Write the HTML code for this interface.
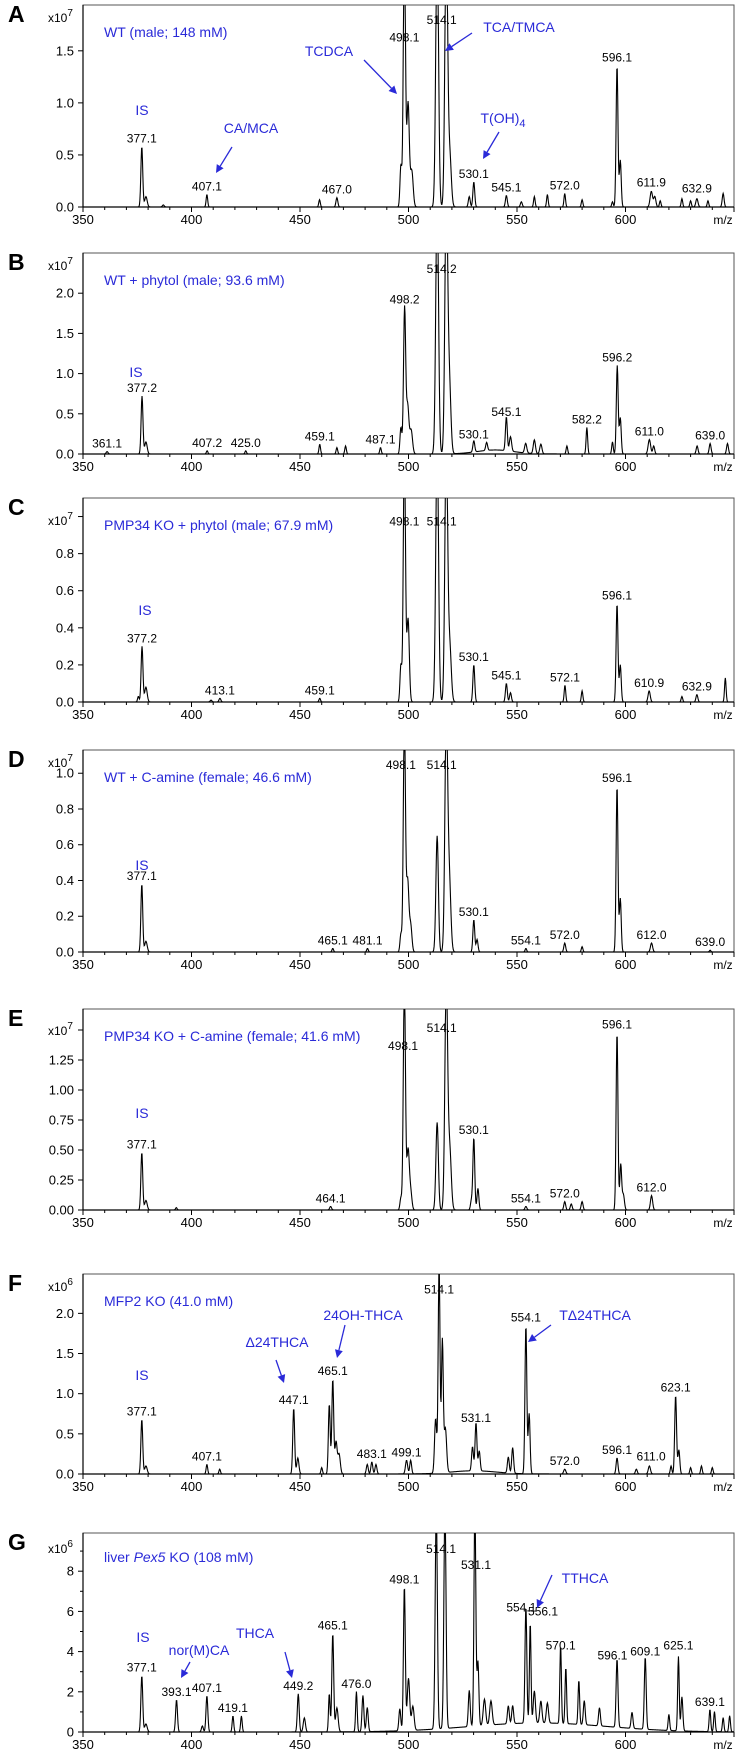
<!DOCTYPE html>
<html><head><meta charset="utf-8">
<style>
html,body{margin:0;padding:0;background:#fff;}
svg{display:block;font-family:"Liberation Sans",Arial,sans-serif;}
</style></head>
<body>
<svg id="fig" width="739" height="1754" viewBox="0 0 739 1754" xmlns="http://www.w3.org/2000/svg"></svg>
<script>
// ---- data: [m/z, intensity, width] ----
const peaksA=[[377.1,0.58,0.6],[379,0.1,0.8],[387,0.02,0.6],[407.1,0.12,0.5],[459,0.07,0.5],[467.0,0.09,0.6],[496.5,0.4,0.6],[498.1,2.6,0.7],[499.8,1.0,0.8],[501.5,0.35,0.9],[513.2,2.6,0.9],[517.4,2.6,0.9],[519,0.5,1.0],[528,0.1,0.6],[530.1,0.24,0.6],[545.1,0.11,0.6],[552,0.05,0.6],[558,0.1,0.5],[564,0.12,0.5],[572.0,0.13,0.5],[580,0.07,0.5],[594,0.05,0.5],[596.1,1.36,0.6],[597.6,0.45,0.6],[611.9,0.15,0.8],[613.5,0.1,0.7],[616,0.06,0.5],[626,0.08,0.5],[630,0.06,0.5],[632.9,0.08,0.7],[638,0.06,0.5],[645,0.13,0.6]];
const labelsA=[["377.1",377.1,0.58],["407.1",407.1,0.12],["467.0",467.0,0.09],["498.1",498.1,1.55],["514.1",515.3,1.72],["530.1",530.1,0.24],["545.1",545.1,0.11],["572.0",572.0,0.13],["596.1",596.1,1.36],["611.9",611.9,0.16],["632.9",632.9,0.1]];
const ticksA=[0,0.5,1.0,1.5];

const peaksB=[[361.1,0.03,0.6],[377.2,0.72,0.6],[379,0.15,0.8],[407.2,0.04,0.5],[425.0,0.04,0.5],[459.1,0.12,0.5],[467,0.08,0.5],[471,0.1,0.5],[487.1,0.08,0.5],[496.5,0.33,0.6],[498.2,1.82,0.7],[499.6,0.6,0.8],[501.2,0.3,0.9],[513.2,3.2,0.9],[517.4,3.2,0.9],[518.8,0.9,1.0],[530.1,0.14,0.6],[536,0.1,0.6],[545.1,0.42,0.6],[547,0.18,0.7],[554,0.12,0.7],[558,0.17,0.7],[561,0.12,0.7],[573,0.1,0.5],[582.2,0.33,0.5],[594,0.15,0.5],[596.2,1.1,0.6],[597.6,0.45,0.6],[611.0,0.18,0.8],[613,0.1,0.6],[633,0.1,0.6],[639.0,0.13,0.6],[647,0.13,0.6],[540,0.05,12]];
const labelsB=[["361.1",361.1,0.03],["377.2",377.2,0.72],["407.2",407.2,0.04],["425.0",425.0,0.04],["459.1",459.1,0.12],["487.1",487.1,0.08],["498.2",498.2,1.82],["514.2",515.3,2.2],["530.1",530.1,0.14],["545.1",545.1,0.42],["582.2",582.2,0.33],["596.2",596.2,1.1],["611.0",611.0,0.18],["639.0",639.0,0.13]];
const ticksB=[0,0.5,1.0,1.5,2.0];

const peaksC=[[377.2,0.3,0.6],[379,0.08,0.8],[375.5,0.03,0.5],[409,0.01,0.6],[413.1,0.02,0.6],[459.1,0.02,0.5],[496.5,0.2,0.6],[498.1,1.4,0.7],[499.8,0.45,0.8],[513.2,1.4,0.9],[517.4,1.4,0.9],[519,0.3,1.0],[530.1,0.2,0.6],[545.1,0.1,0.6],[547,0.05,0.6],[572.1,0.09,0.5],[580,0.06,0.5],[596.1,0.53,0.6],[597.6,0.2,0.6],[610.9,0.06,0.7],[626,0.03,0.5],[632.9,0.04,0.6],[646,0.13,0.5]];
const labelsC=[["377.2",377.2,0.3],["413.1",413.1,0.02],["459.1",459.1,0.02],["498.1",498.1,0.93],["514.1",515.3,0.93],["530.1",530.1,0.2],["545.1",545.1,0.1],["572.1",572.1,0.09],["596.1",596.1,0.53],["610.9",610.9,0.06],["632.9",632.9,0.04]];
const ticksC=[0,0.2,0.4,0.6,0.8];

const peaksD=[[377.1,0.38,0.6],[379,0.06,0.8],[465.1,0.02,0.5],[481.1,0.02,0.5],[496.5,0.1,0.6],[498.1,1.3,0.7],[499.6,0.4,0.8],[501,0.15,0.8],[513.2,0.65,0.8],[517.4,1.3,0.9],[518.8,0.4,1.0],[530.1,0.18,0.6],[531.6,0.07,0.6],[554.1,0.02,0.5],[572.0,0.05,0.6],[580,0.03,0.5],[596.1,0.93,0.6],[597.6,0.3,0.6],[612.0,0.05,0.7],[639.0,0.01,0.5]];
const labelsD=[["377.1",377.1,0.38],["465.1",465.1,0.02],["481.1",481.1,0.02],["498.1",496.5,1.0],["514.1",515.3,1.0],["530.1",530.1,0.18],["554.1",554.1,0.02],["572.0",572.0,0.05],["596.1",596.1,0.93],["612.0",612.0,0.05],["639.0",639.0,0.01]];
const ticksD=[0,0.2,0.4,0.6,0.8,1.0];

const peaksE=[[377.1,0.48,0.6],[379,0.08,0.8],[393,0.02,0.5],[464.1,0.03,0.6],[496.5,0.1,0.6],[498.1,1.9,0.7],[499.8,0.5,0.8],[501,0.15,0.8],[513.2,0.73,0.8],[517.4,1.9,0.9],[519,0.5,1.0],[529,0.08,0.6],[530.1,0.6,0.6],[532,0.18,0.6],[554.1,0.03,0.6],[572.0,0.07,0.6],[575,0.05,0.6],[580,0.07,0.6],[596.1,1.48,0.6],[597.8,0.38,0.6],[599,0.13,0.7],[612.0,0.12,0.7]];
const labelsE=[["377.1",377.1,0.48],["464.1",464.1,0.03],["498.1",497.5,1.3],["514.1",515.3,1.45],["530.1",530.1,0.6],["554.1",554.1,0.03],["572.0",572.0,0.07],["596.1",596.1,1.48],["612.0",612.0,0.12]];
const ticksE=[0,0.25,0.5,0.75,1.0,1.25];

const peaksF=[[377.1,0.68,0.6],[379,0.1,0.8],[407.1,0.12,0.5],[413,0.06,0.5],[447.1,0.82,0.6],[449,0.2,0.7],[460,0.08,0.5],[463.5,0.87,0.6],[465.1,1.18,0.6],[466.6,0.4,0.7],[468,0.25,0.8],[481,0.12,0.6],[483.1,0.15,0.6],[485,0.12,0.6],[499.1,0.17,0.7],[501,0.17,0.6],[512.5,0.68,0.7],[514.1,2.6,0.6],[515.6,1.65,0.6],[517,0.55,0.8],[529.5,0.3,0.6],[531.1,0.6,0.6],[532.6,0.25,0.6],[546,0.2,0.6],[548,0.32,0.6],[554.1,1.85,0.6],[555.6,0.75,0.6],[572.0,0.06,0.7],[596.1,0.2,0.6],[605,0.06,0.6],[611.0,0.1,0.7],[621,0.1,0.5],[623.1,0.98,0.6],[624.6,0.3,0.6],[630,0.08,0.5],[635,0.1,0.5],[640,0.08,0.5],[530,0.04,15]];
const labelsF=[["377.1",377.1,0.68],["407.1",407.1,0.12],["447.1",447.1,0.82],["465.1",465.1,1.18],["483.1",483.1,0.15],["499.1",499.1,0.17],["514.1",514.1,2.2],["531.1",531.1,0.6],["554.1",554.1,1.85],["572.0",572.0,0.06],["596.1",596.1,0.2],["611.0",611.8,0.12],["623.1",623.1,0.98]];
const ticksF=[0,0.5,1.0,1.5,2.0];

const peaksG=[[377.1,2.8,0.6],[379,0.4,0.8],[393.1,1.6,0.6],[405,0.3,0.6],[407.1,1.8,0.6],[419.1,0.8,0.5],[423,0.8,0.5],[449.2,1.9,0.6],[452,0.7,0.7],[463.5,1.9,0.5],[465.1,4.9,0.6],[467,1.2,0.8],[476.0,2.0,0.5],[479,1.8,0.6],[481,1.2,0.6],[496,1.1,0.6],[498.1,7.2,0.6],[500,2.6,0.8],[502,1.2,0.8],[512.8,11,0.7],[516.8,11,0.7],[528,1.8,0.6],[530.6,11,0.6],[532,3.2,0.6],[535,1.3,0.8],[538,1.2,0.8],[546,0.9,0.6],[548,0.9,0.6],[554.1,5.8,0.6],[556.1,5.0,0.5],[558,1.6,0.7],[561,1.1,0.7],[564,1.0,0.7],[570.1,3.9,0.5],[572.5,2.8,0.5],[578.5,2.2,0.5],[581,1.2,0.6],[588,0.9,0.6],[596.1,3.4,0.6],[603,0.8,0.6],[609.1,3.6,0.6],[620,0.8,0.5],[624.4,3.7,0.5],[626,1.7,0.6],[638.9,1.1,0.5],[641,1.0,0.5],[645,0.7,0.5],[648,0.8,0.5],[560,0.45,45]];
const labelsG=[["377.1",377.1,2.8],["393.1",393.1,1.6],["407.1",407.1,1.8],["419.1",419.1,0.8],["449.2",449.2,1.9],["465.1",465.1,4.9],["476.0",476.0,2.0],["498.1",498.1,7.2],["514.1",515,8.7],["531.1",531.1,7.9],["554.1",552,5.8],["556.1",562,5.6],["570.1",570.1,3.9],["596.1",594,3.4],["609.1",609.1,3.6],["625.1",624.4,3.9],["639.1",638.9,1.1]];
const ticksG=[0,2,4,6,8];

const xTicks=[350,400,450,500,550,600];

// ---- layout ----
const X0=83,X1=734,MZ0=350,MZ1=650;
function xs(mz){return X0+(mz-MZ0)*(X1-X0)/(MZ1-MZ0);}
const NS="http://www.w3.org/2000/svg";
const svg=document.getElementById('fig');
function mk(tag,attrs,parent){const e=document.createElementNS(NS,tag);for(const k in attrs)e.setAttribute(k,attrs[k]);(parent||svg).appendChild(e);return e;}

const panels=[
 {k:'a',L:'A',top:5,bot:207,max:1.94,peaks:peaksA,labels:labelsA,ticks:ticksA,dec:1,exp:'7',expY:17,title:'WT (male; 148 mM)'},
 {k:'b',L:'B',top:253,bot:454,max:2.5,peaks:peaksB,labels:labelsB,ticks:ticksB,dec:1,exp:'7',expY:17,title:'WT + phytol (male; 93.6 mM)'},
 {k:'c',L:'C',top:498,bot:702,max:1.1,peaks:peaksC,labels:labelsC,ticks:ticksC,dec:1,exp:'7',expY:27,title:'PMP34 KO + phytol (male; 67.9 mM)'},
 {k:'d',L:'D',top:750,bot:952,max:1.13,peaks:peaksD,labels:labelsD,ticks:ticksD,dec:1,exp:'7',expY:17,title:'WT + C-amine (female; 46.6 mM)'},
 {k:'e',L:'E',top:1009,bot:1210,max:1.675,peaks:peaksE,labels:labelsE,ticks:ticksE,dec:2,exp:'7',expY:26,title:'PMP34 KO + C-amine (female; 41.6 mM)'},
 {k:'f',L:'F',top:1274,bot:1474,max:2.49,peaks:peaksF,labels:labelsF,ticks:ticksF,dec:1,exp:'6',expY:17,title:'MFP2 KO (41.0 mM)'},
 {k:'g',L:'G',top:1533,bot:1732,max:9.9,peaks:peaksG,labels:labelsG,ticks:ticksG,dec:0,exp:'6',expY:20,title:null}
];

const BLUE='#2a2ad8';
function note(g,text,x,y){const t=mk('text',{x:x,y:y,'text-anchor':'middle','font-size':'14',fill:BLUE},g);t.textContent=text;

return t;}
function arrow(g,x1,y1,x2,y2){
 const a=mk('g',{},g);
 
 
 const dx=x2-x1,dy=y2-y1,l=Math.hypot(dx,dy),ux=dx/l,uy=dy/l;
 const bx=x2-ux*8,by=y2-uy*8;
 mk('line',{x1:x1,y1:y1,x2:bx,y2:by,stroke:BLUE,'stroke-width':1.3},a);
 mk('polygon',{points:`${x2},${y2} ${bx-uy*4},${by+ux*4} ${bx+uy*4},${by-ux*4}`,fill:BLUE},a);
}

panels.forEach(p=>{
 const g=mk('g',{});
 
 
 const ys=v=>p.bot-(v/p.max)*(p.bot-p.top);
 const lt=mk('text',{x:8,y:p.top+17,'font-size':'23','font-weight':'bold',fill:'#000'},g);
 lt.textContent=p.L;
 
 
 const cp=mk('clipPath',{id:'clip'+p.k},g);
 mk('rect',{x:X0,y:p.top,width:X1-X0,height:p.bot-p.top},cp);
 const fr=mk('rect',{x:X0,y:p.top,width:X1-X0,height:p.bot-p.top,fill:'none',stroke:'#555','stroke-width':1},g);
 
 
 const ya=mk('line',{x1:X0,y1:p.top,x2:X0,y2:p.bot,stroke:'#000','stroke-width':1.2},g);
 
 
 p.ticks.forEach(v=>{
  const y=ys(v);
  mk('line',{x1:X0-5,y1:y,x2:X0,y2:y,stroke:'#000'},g);
  const t=mk('text',{x:X0-9,y:y+4.5,'text-anchor':'end','font-size':'13',fill:'#000'},g);
  t.textContent=v.toFixed(p.dec);
  
  
 });
 const step=p.ticks[1]-p.ticks[0];
 const nextT=p.ticks[p.ticks.length-1]+step;
 if(nextT<p.max){const y=ys(nextT);mk('line',{x1:X0-5,y1:y,x2:X0,y2:y,stroke:'#000'},g);}
 if(p.k==='g'){[1,3,5,7,9].forEach(v=>{const y=ys(v);mk('line',{x1:X0-3,y1:y,x2:X0,y2:y,stroke:'#000'},g);});}
 const ex=mk('text',{x:X0-35,y:p.top+p.expY,'font-size':'12',fill:'#000'},g);
 ex.innerHTML='x10<tspan dy="-6" font-size="10">'+p.exp+'</tspan>';
 
 
 const xa=mk('line',{x1:X0,y1:p.bot,x2:X1,y2:p.bot,stroke:'#000','stroke-width':1.2},g);
 
 
 for(let m=350;m<=650;m+=10){const x=xs(m);mk('line',{x1:x,y1:p.bot,x2:x,y2:p.bot+(m%50===0?5:3),stroke:'#000'},g);}
 xTicks.forEach(m=>{
  const t=mk('text',{x:xs(m),y:p.bot+17,'text-anchor':'middle','font-size':'13',fill:'#000'},g);
  t.textContent=String(m);
  
  
 });
 const mz=mk('text',{x:723,y:p.bot+17,'text-anchor':'middle','font-size':'12',fill:'#000'},g);
 mz.textContent='m/z';
 
 
 let d='';
 for(let m=MZ0;m<=MZ1+0.001;m+=0.2){
  let v=0;p.peaks.forEach(pk=>{const z=(m-pk[0])/pk[2];if(Math.abs(z)<6)v+=pk[1]*Math.exp(-z*z);});
  const yy=Math.max(ys(v),p.top-10);
  d+=(d?'L':'M')+xs(m).toFixed(2)+','+yy.toFixed(2);
 }
 const sp=mk('path',{d:d,fill:'none',stroke:'#000','stroke-width':1.1,'clip-path':'url(#clip'+p.k+')'},g);
 
 
 p.labels.forEach(l=>{
  const t=mk('text',{x:xs(l[1]),y:Math.max(ys(l[2])-4,p.top+13),'text-anchor':'middle','font-size':'12',fill:'#000'},g);
  t.textContent=l[0];
  
  
 });
 if(p.title){
  const t=mk('text',{x:104,y:p.top+32,'font-size':'14',fill:BLUE},g);
  t.textContent=p.title;
  
  
 }
 p.g=g;p.ys=ys;
});

const A=panels[0].g,B=panels[1].g,C=panels[2].g,D=panels[3].g,E=panels[4].g,F=panels[5].g,G=panels[6].g;
note(A,'IS',142,115);
note(A,'CA/MCA',251,133);arrow(A,232,147,216,173);
note(A,'TCDCA',329,56);arrow(A,364,60,397,94);
note(A,'TCA/TMCA',519,32);arrow(A,472,33,445,51);
const toh=note(A,'T(OH)',503,123);toh.innerHTML='T(OH)<tspan dy="4" font-size="11">4</tspan>';arrow(A,499,132,483,159);
note(B,'IS',136,377);
note(C,'IS',145,615);
note(D,'IS',142,870);
note(E,'IS',142,1118);
note(F,'IS',142,1380);
note(F,'\u039424THCA',277,1347);arrow(F,276,1360,284,1383);
note(F,'24OH-THCA',363,1320);arrow(F,345,1325,337,1358);
note(F,'T\u039424THCA',595,1320);arrow(F,551,1325,528,1342);
const gt=mk('text',{x:104,y:1562,'font-size':'14',fill:BLUE},G);
gt.innerHTML='liver <tspan font-style="italic">Pex5</tspan> KO (108 mM)';


note(G,'IS',143,1642);
note(G,'nor(M)CA',199,1655);arrow(G,190,1662,181,1678);
note(G,'THCA',255,1638);arrow(G,285,1652,292,1678);
note(G,'TTHCA',585,1583);arrow(G,552,1575,537,1608);
</script>
</body></html>
